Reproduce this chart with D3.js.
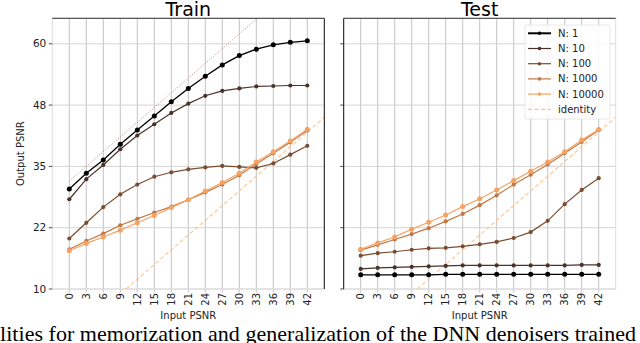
<!DOCTYPE html>
<html>
<head>
<meta charset="utf-8">
<script src="https://cdn.jsdelivr.net/npm/d3@7"></script>
<style>
  html, body { margin: 0; padding: 0; background: #fff; }
  svg { display: block; }
</style>
</head>
<body>
<svg id="chart" width="640" height="343"></svg>
<script>
// input PSNR values (x ticks)
const inputPsnr = [0, 3, 6, 9, 12, 15, 18, 21, 24, 27, 30, 33, 36, 39, 42];
const yTicks = [10, 22.5, 35, 47.5, 60];
const yTickLabels = ["10", "22", "35", "48", "60"];
const seriesNames = ["N: 1", "N: 10", "N: 100", "N: 1000", "N: 10000"];
const seriesColors = ["#000000", "#4a3328", "#7a4c30", "#c27845", "#f5a263"];

// Train panel outputs
const trainN1 = [30.4, 33.6, 36.3, 39.5, 42.4, 45.3, 48.2, 50.9, 53.4, 55.7, 57.6, 58.9, 59.8, 60.3, 60.6];
const trainN10 = [28.3, 32.4, 35.3, 38.5, 41.3, 43.6, 45.9, 47.8, 49.4, 50.4, 50.9, 51.3, 51.4, 51.5, 51.5];
const trainN100 = [20.3, 23.5, 26.7, 29.3, 31.3, 32.9, 33.8, 34.4, 34.8, 35.1, 34.9, 34.7, 35.6, 37.4, 39.2];
const trainN1000 = [18.1, 19.8, 21.3, 23.0, 24.3, 25.6, 26.8, 28.2, 29.7, 31.3, 33.2, 35.5, 37.7, 39.9, 42.3];
const trainN10000 = [17.8, 19.3, 20.6, 22.0, 23.5, 25.0, 26.6, 28.2, 30.0, 31.7, 33.6, 35.9, 38.0, 40.2, 42.6];

// Test panel outputs
const testN1 = [12.9, 12.9, 12.9, 12.9, 12.9, 13.0, 13.0, 13.0, 13.0, 13.0, 13.0, 13.0, 13.0, 13.0, 13.0];
const testN10 = [14.1, 14.3, 14.4, 14.5, 14.6, 14.7, 14.8, 14.8, 14.8, 14.8, 14.8, 14.8, 14.8, 14.9, 14.9];
const testN100 = [16.8, 17.3, 17.6, 18.0, 18.3, 18.4, 18.7, 19.1, 19.6, 20.4, 21.6, 23.9, 27.3, 30.2, 32.6];
const testN1000 = [17.9, 19.0, 20.1, 21.2, 22.4, 23.8, 25.3, 27.1, 29.1, 31.3, 33.3, 35.4, 37.7, 40.0, 42.4];
const testN10000 = [18.1, 19.4, 20.6, 22.2, 23.6, 25.1, 26.8, 28.4, 30.2, 32.1, 34.0, 35.9, 38.0, 40.4, 42.5];

// reference lines
const identityX = [-3, 45];
const boundX = [0, 40];
const boundY = [32, 72];

const panels = [
  { title: "Train", left: 52.3, series: [trainN1, trainN10, trainN100, trainN1000, trainN10000], bound: true, legend: false },
  { title: "Test", left: 343.7, series: [testN1, testN10, testN100, testN1000, testN10000], bound: false, legend: true }
];

const svg = d3.select("#chart");
const font = "DejaVu Sans, sans-serif";
const plotTop = 18.3, plotBottom = 289, panelW = 272;
const y = d3.scaleLinear().domain([10, 65.2]).range([plotBottom, plotTop]);

panels.forEach((p, pi) => {
  const x = d3.scaleLinear().domain([-3, 45]).range([p.left, p.left + panelW]);
  const g = svg.append("g");

  g.append("clipPath").attr("id", `clip-${pi}`)
    .append("rect").attr("x", p.left).attr("y", plotTop).attr("width", panelW).attr("height", plotBottom - plotTop);

  // grid
  g.selectAll(".vg").data(inputPsnr).join("line")
    .attr("x1", d => x(d)).attr("x2", d => x(d))
    .attr("y1", plotTop).attr("y2", plotBottom + 3.5)
    .attr("stroke", "#c4c4c4").attr("stroke-width", 1);
  g.selectAll(".hg").data(yTicks).join("line")
    .attr("x1", p.left).attr("x2", p.left + panelW)
    .attr("y1", d => y(d)).attr("y2", d => y(d))
    .attr("stroke", "#d4d4d4").attr("stroke-width", 1);

  // light frame
  g.append("rect").attr("x", p.left).attr("y", plotTop).attr("width", panelW).attr("height", plotBottom - plotTop)
    .attr("fill", "none").attr("stroke", "#dedede").attr("stroke-width", 1);

  const plot = g.append("g").attr("clip-path", `url(#clip-${pi})`);

  // identity
  plot.append("path")
    .datum(identityX)
    .attr("d", d3.line().x(d => x(d)).y(d => y(d)))
    .attr("fill", "none").attr("stroke", "#ffc38a").attr("stroke-width", 1.1)
    .attr("stroke-dasharray", "4,2.5");

  if (p.bound) {
    plot.append("path")
      .datum(d3.zip(boundX, boundY))
      .attr("d", d3.line().x(d => x(d[0])).y(d => y(d[1])))
      .attr("fill", "none").attr("stroke", "#a97c66").attr("stroke-width", 0.9)
      .attr("stroke-dasharray", "1,1.8");
  }

  // series
  p.series.forEach((vals, si) => {
    const pts = d3.zip(inputPsnr, vals);
    const col = seriesColors[si];
    plot.append("path").datum(pts)
      .attr("d", d3.line().x(d => x(d[0])).y(d => y(d[1])))
      .attr("fill", "none").attr("stroke", col).attr("stroke-width", si === 0 ? 1.3 : 1.2);
    plot.selectAll(null).data(pts).join("circle")
      .attr("cx", d => x(d[0])).attr("cy", d => y(d[1]))
      .attr("r", si === 0 ? 2.5 : si === 4 ? 2.5 : 2.1)
      .attr("fill", col);
  });

  // dark spines
  g.append("line").attr("x1", p.left).attr("x2", p.left + panelW).attr("y1", plotTop).attr("y2", plotTop)
    .attr("stroke", "#333").attr("stroke-width", 1);
  const sx = pi === 0 ? p.left + panelW : p.left;
  g.append("line").attr("x1", sx).attr("x2", sx).attr("y1", plotTop).attr("y2", plotBottom)
    .attr("stroke", "#111").attr("stroke-width", 1);

  // y ticks
  g.selectAll(".yt").data(yTicks).join("line")
    .attr("x1", p.left - 3.5).attr("x2", p.left)
    .attr("y1", d => y(d)).attr("y2", d => y(d))
    .attr("stroke", "#222").attr("stroke-width", 0.8);
  if (pi === 0) {
    g.selectAll(".yl").data(yTicks).join("text")
      .attr("x", p.left - 6).attr("y", d => y(d)).attr("dy", "0.35em")
      .attr("text-anchor", "end")
      .style("font-family", font).style("font-size", "10.5px").attr("fill", "#222")
      .text((d, i) => yTickLabels[i]);
    g.append("text")
      .attr("transform", `translate(24,${(plotTop + plotBottom) / 2}) rotate(-90)`)
      .attr("text-anchor", "middle")
      .style("font-family", font).style("font-size", "10px").attr("fill", "#222")
      .text("Output PSNR");
  }

  // x tick labels
  g.selectAll(".xl").data(inputPsnr).join("text")
    .attr("transform", d => `translate(${x(d)},${plotBottom + 4}) rotate(-90)`)
    .attr("dy", "0.35em").attr("text-anchor", "end")
    .style("font-family", font).style("font-size", "10px").attr("fill", "#222")
    .text(d => d);
  g.append("text")
    .attr("x", p.left + panelW / 2).attr("y", 319)
    .attr("text-anchor", "middle")
    .style("font-family", font).style("font-size", "10px").attr("fill", "#222")
    .text("Input PSNR");

  // title
  g.append("text")
    .attr("x", p.left + panelW / 2).attr("y", 16)
    .attr("text-anchor", "middle")
    .style("font-family", font).style("font-size", "19px").attr("fill", "#000")
    .text(p.title);

  if (p.legend) {
    const lg = g.append("g");
    lg.append("rect").attr("x", 525).attr("y", 25).attr("width", 85).attr("height", 94)
      .attr("rx", 2).attr("fill", "#fff").attr("fill-opacity", 0.85)
      .attr("stroke", "#e2e2e2").attr("stroke-width", 0.8);
    const names = seriesNames.concat(["identity"]);
    names.forEach((n, i) => {
      const ly = 33.3 + i * 15.2;
      const col = i < 5 ? seriesColors[i] : "#ffc38a";
      lg.append("line").attr("x1", 528).attr("x2", 551).attr("y1", ly).attr("y2", ly)
        .attr("stroke", col).attr("stroke-width", i === 0 ? 2 : 1.2)
        .attr("stroke-dasharray", i === 5 ? "4,2.5" : null);
      if (i < 5) {
        lg.append("circle").attr("cx", 539.5).attr("cy", ly).attr("r", 1.8).attr("fill", col);
      }
      lg.append("text").attr("x", 558).attr("y", ly).attr("dy", "0.35em")
        .style("font-family", font).style("font-size", "10px").attr("fill", "#222")
        .text(n);
    });
  }
});

// caption text from the page below the figure (cropped in the source image)
svg.append("text")
  .attr("x", 0).attr("y", 341)
  .attr("textLength", 636).attr("lengthAdjust", "spacing")
  .style("font-family", "Liberation Serif, serif").style("font-size", "22px").attr("fill", "#000")
  .text("lities for memorization and generalization of the DNN denoisers trained");
</script>
</body>
</html>
